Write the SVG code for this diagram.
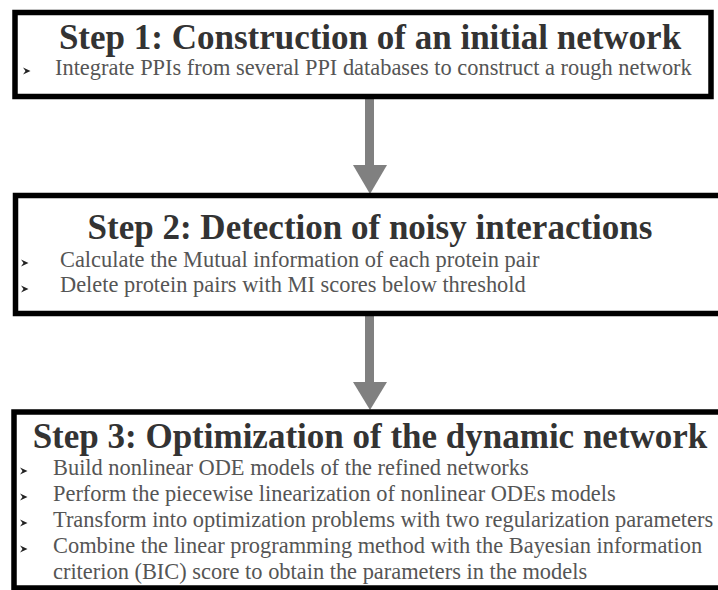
<svg xmlns="http://www.w3.org/2000/svg" xmlns:xlink="http://www.w3.org/1999/xlink" width="718" height="590" viewBox="0 0 718 590">
<style>
.box{fill:#ffffff;stroke:#000000;stroke-width:5.5}
.title{font-family:"Liberation Serif","Times New Roman",serif;font-weight:bold;font-size:35px;fill:#333333;text-anchor:middle}
.body{font-family:"Liberation Serif","Times New Roman",serif;font-size:22.4px;fill:#555555}
.shaft{fill:#808080}
.head{fill:#808080}
.bul{fill:#222222}
</style>
<defs>
<path id="bullet" d="M0,-3.5 L7.5,0 L0,3.5 L2.5,0 Z"/>
</defs>
<rect width="718" height="590" fill="#ffffff"/>
<g id="connectors">
<rect class="shaft" x="365" y="98" width="9" height="68"/>
<polygon class="head" points="353,165 387,165 370,194"/>
<rect class="shaft" x="365" y="315" width="9" height="68"/>
<polygon class="head" points="353,382 387,382 370,410"/>
</g>
<g id="step1">
<rect class="box" x="15" y="12.5" width="696" height="84"/>
<text class="title" x="370" y="49">Step 1: Construction of an initial network</text>
<use class="bul" xlink:href="#bullet" x="23" y="71"/>
<text class="body" x="55" y="75">Integrate PPIs from several PPI databases to construct a rough network</text>
</g>
<g id="step2">
<rect class="box" x="15.5" y="195.5" width="710" height="118"/>
<text class="title" x="370" y="239">Step 2: Detection of noisy interactions</text>
<use class="bul" xlink:href="#bullet" x="21" y="263"/>
<text class="body" x="60" y="267">Calculate the Mutual information of each protein pair</text>
<use class="bul" xlink:href="#bullet" x="21" y="289"/>
<text class="body" x="60" y="292">Delete protein pairs with MI scores below threshold</text>
</g>
<g id="step3">
<rect class="box" x="14" y="412" width="710" height="176"/>
<text class="title" x="370" y="448">Step 3: Optimization of the dynamic network</text>
<use class="bul" xlink:href="#bullet" x="20" y="471"/>
<text class="body" x="53" y="475">Build nonlinear ODE models of the refined networks</text>
<use class="bul" xlink:href="#bullet" x="20" y="497"/>
<text class="body" x="53" y="501">Perform the piecewise linearization of nonlinear ODEs models</text>
<use class="bul" xlink:href="#bullet" x="20" y="523"/>
<text class="body" x="53" y="527">Transform into optimization problems with two regularization parameters</text>
<use class="bul" xlink:href="#bullet" x="20" y="549"/>
<text class="body" x="53" y="553">Combine the linear programming method with the Bayesian information</text>
<text class="body" x="53" y="579">criterion (BIC) score to obtain the parameters in the models</text>
</g>
</svg>
